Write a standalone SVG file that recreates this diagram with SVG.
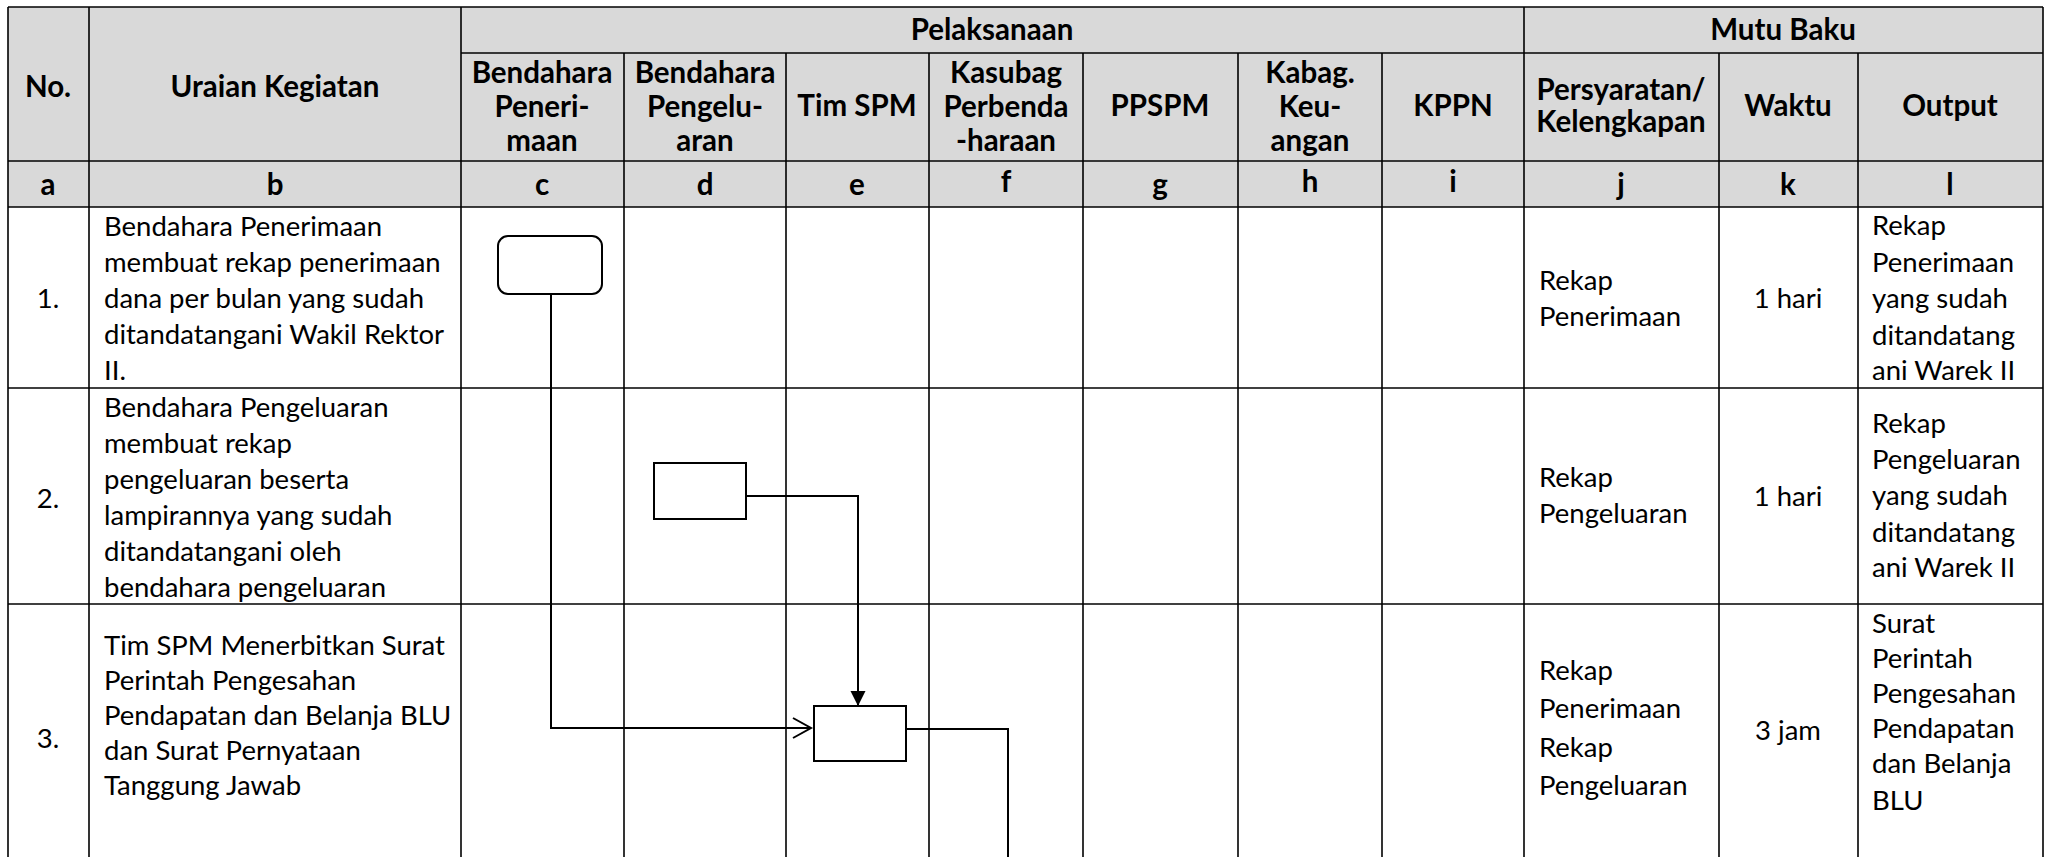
<svg xmlns="http://www.w3.org/2000/svg" width="2049" height="857" viewBox="0 0 2049 857">
  <defs>
    <style>
      .grid { stroke:#000; stroke-width:1.6; fill:none; }
      .hd { font-family:Lato, "Liberation Sans", sans-serif; font-weight:700; font-size:29.5px; fill:#000; text-anchor:middle; }
      .tx { font-family:Lato, "Liberation Sans", sans-serif; font-size:27.5px; fill:#000; }
      .mid { text-anchor:middle; }
      .node { fill:#fff; stroke:#000; stroke-width:2; }
      .conn { fill:none; stroke:#000; stroke-width:2; }
    </style>
    <marker id="openArrow" markerUnits="userSpaceOnUse" viewBox="-20 -12 22 24" markerWidth="22" markerHeight="24" refX="0" refY="0" orient="auto" overflow="visible">
      <path d="M-18,-10 L0,0 L-18,10" fill="none" stroke="#000" stroke-width="2"/>
    </marker>
    <marker id="solidArrow" markerUnits="userSpaceOnUse" viewBox="-16 -8 17 16" markerWidth="17" markerHeight="16" refX="0" refY="0" orient="auto" overflow="visible">
      <path d="M-15,-7.5 L0,0 L-15,7.5 Z" fill="#000"/>
    </marker>
  </defs>

  <rect width="2049" height="857" fill="#fff"/>

  <!-- table header background -->
  <rect x="8" y="7" width="2035" height="200" fill="#d9d9d9"/>

  <!-- table grid -->
  <g id="grid" class="grid">
    <line x1="8" y1="7" x2="2043" y2="7"/>
    <line x1="461" y1="53" x2="2043" y2="53"/>
    <line x1="8" y1="161" x2="2043" y2="161"/>
    <line x1="8" y1="207" x2="2043" y2="207"/>
    <line x1="8" y1="388" x2="2043" y2="388"/>
    <line x1="8" y1="604" x2="2043" y2="604"/>
    <line x1="8" y1="7" x2="8" y2="857"/>
    <line x1="89" y1="7" x2="89" y2="857"/>
    <line x1="461" y1="7" x2="461" y2="857"/>
    <line x1="1524" y1="7" x2="1524" y2="857"/>
    <line x1="2043" y1="7" x2="2043" y2="857"/>
    <line x1="624" y1="53" x2="624" y2="857"/>
    <line x1="786" y1="53" x2="786" y2="857"/>
    <line x1="929" y1="53" x2="929" y2="857"/>
    <line x1="1083" y1="53" x2="1083" y2="857"/>
    <line x1="1238" y1="53" x2="1238" y2="857"/>
    <line x1="1382" y1="53" x2="1382" y2="857"/>
    <line x1="1719" y1="53" x2="1719" y2="857"/>
    <line x1="1858" y1="53" x2="1858" y2="857"/>
  </g>

  <!-- column headings -->
  <g id="header" class="hd">
    <text x="48" y="97">No.</text>
    <text x="275" y="97">Uraian Kegiatan</text>
    <text x="992" y="40">Pelaksanaan</text>
    <text x="1783" y="40">Mutu Baku</text>
    <text x="542" y="83">Bendahara</text>
    <text x="542" y="117">Peneri-</text>
    <text x="542" y="151">maan</text>
    <text x="705" y="83">Bendahara</text>
    <text x="705" y="117">Pengelu-</text>
    <text x="705" y="151">aran</text>
    <text x="857" y="116">Tim SPM</text>
    <text x="1006" y="83">Kasubag</text>
    <text x="1006" y="117">Perbenda</text>
    <text x="1006" y="151">-haraan</text>
    <text x="1160" y="116">PPSPM</text>
    <text x="1310" y="83">Kabag.</text>
    <text x="1310" y="117">Keu-</text>
    <text x="1310" y="151">angan</text>
    <text x="1453" y="116">KPPN</text>
    <text x="1621" y="100">Persyaratan/</text>
    <text x="1621" y="132">Kelengkapan</text>
    <text x="1788" y="116">Waktu</text>
    <text x="1950" y="116">Output</text>
  </g>

  <!-- column letters -->
  <g id="letters" class="hd">
    <text x="48" y="195">a</text>
    <text x="275" y="195">b</text>
    <text x="542" y="195">c</text>
    <text x="705" y="195">d</text>
    <text x="857" y="195">e</text>
    <text x="1006" y="192">f</text>
    <text x="1160" y="195">g</text>
    <text x="1310" y="192">h</text>
    <text x="1453" y="192">i</text>
    <text x="1621" y="195">j</text>
    <text x="1788" y="195">k</text>
    <text x="1950" y="195">l</text>
  </g>

  <!-- row 1 -->
  <g id="row1" class="tx">
    <text class="mid" x="48" y="308">1.</text>
    <text x="104" y="236">Bendahara Penerimaan</text>
    <text x="104" y="272">membuat rekap penerimaan</text>
    <text x="104" y="308">dana per bulan yang sudah</text>
    <text x="104" y="344">ditandatangani Wakil Rektor</text>
    <text x="104" y="380">II.</text>
    <text x="1539" y="290">Rekap</text>
    <text x="1539" y="326">Penerimaan</text>
    <text class="mid" x="1788" y="308">1 hari</text>
    <text x="1872" y="235">Rekap</text>
    <text x="1872" y="272">Penerimaan</text>
    <text x="1872" y="308">yang sudah</text>
    <text x="1872" y="345">ditandatang</text>
    <text x="1872" y="380">ani Warek II</text>
  </g>

  <!-- row 2 -->
  <g id="row2" class="tx">
    <text class="mid" x="48" y="508">2.</text>
    <text x="104" y="417">Bendahara Pengeluaran</text>
    <text x="104" y="453">membuat rekap</text>
    <text x="104" y="489">pengeluaran beserta</text>
    <text x="104" y="525">lampirannya yang sudah</text>
    <text x="104" y="561">ditandatangani oleh</text>
    <text x="104" y="597">bendahara pengeluaran</text>
    <text x="1539" y="487">Rekap</text>
    <text x="1539" y="523">Pengeluaran</text>
    <text class="mid" x="1788" y="506">1 hari</text>
    <text x="1872" y="433">Rekap</text>
    <text x="1872" y="469">Pengeluaran</text>
    <text x="1872" y="505">yang sudah</text>
    <text x="1872" y="542">ditandatang</text>
    <text x="1872" y="577">ani Warek II</text>
  </g>

  <!-- row 3 -->
  <g id="row3" class="tx">
    <text class="mid" x="48" y="748">3.</text>
    <text x="104" y="655">Tim SPM Menerbitkan Surat</text>
    <text x="104" y="690">Perintah Pengesahan</text>
    <text x="104" y="725">Pendapatan dan Belanja BLU</text>
    <text x="104" y="760">dan Surat Pernyataan</text>
    <text x="104" y="795">Tanggung Jawab</text>
    <text x="1539" y="680">Rekap</text>
    <text x="1539" y="718">Penerimaan</text>
    <text x="1539" y="757">Rekap</text>
    <text x="1539" y="795">Pengeluaran</text>
    <text class="mid" x="1788" y="740">3 jam</text>
    <text x="1872" y="633">Surat</text>
    <text x="1872" y="668">Perintah</text>
    <text x="1872" y="703">Pengesahan</text>
    <text x="1872" y="738">Pendapatan</text>
    <text x="1872" y="773">dan Belanja</text>
    <text x="1872" y="810">BLU</text>
  </g>

  <!-- flow nodes -->
  <g id="node-start">
    <rect class="node" x="498" y="236" width="104" height="58" rx="10" ry="10"/>
  </g>
  <g id="node-rekap-pengeluaran">
    <rect class="node" x="654" y="463" width="92" height="56"/>
  </g>
  <g id="node-tim-spm">
    <rect class="node" x="814" y="706" width="92" height="55"/>
  </g>

  <!-- flow connectors -->
  <g id="connectors" class="conn">
    <path d="M551,294 V728 H811" marker-end="url(#openArrow)"/>
    <path d="M746,496 H858 V706" marker-end="url(#solidArrow)"/>
    <path d="M906,729 H1008 V857"/>
  </g>
</svg>
